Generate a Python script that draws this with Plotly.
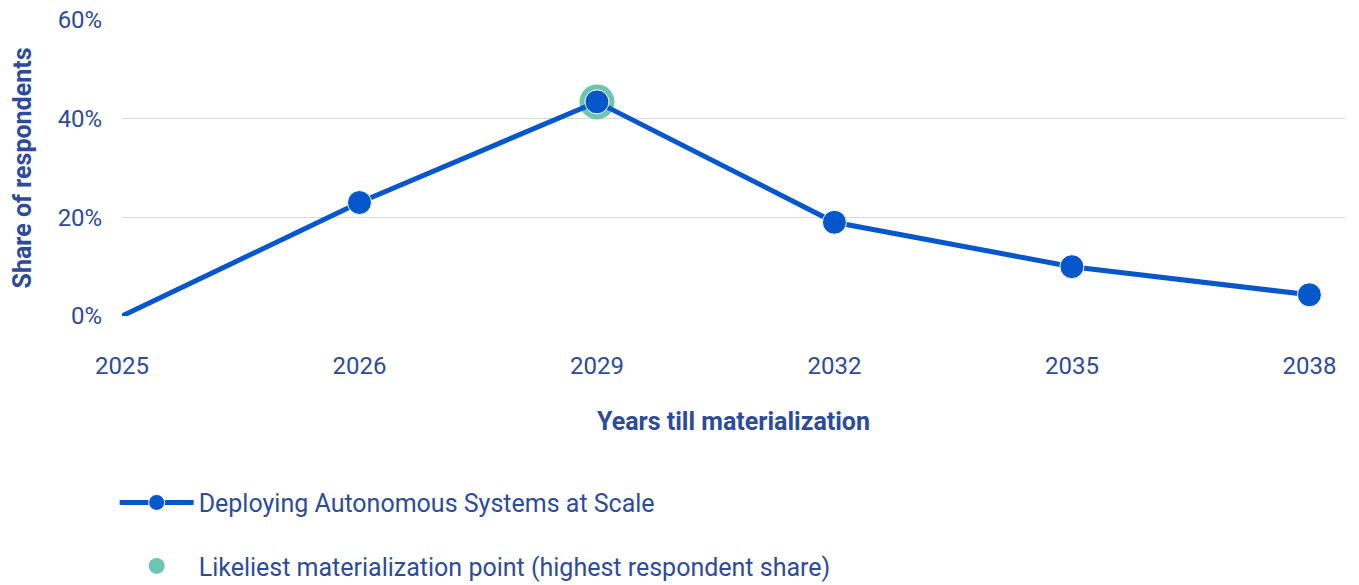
import plotly.graph_objects as go

# Survey results: share of respondents by expected year of materialization
years = ["2025", "2026", "2029", "2032", "2035", "2038"]
share = [0, 23, 43.4, 19, 10, 4.3]
y_ticks = [0, 20, 40, 60]
y_tick_labels = ["0%", "20%", "40%", "60%"]

series_name = "Deploying Autonomous Systems at Scale"
peak_name = "Likeliest materialization point (highest respondent share)"

LINE_BLUE = "#0757CC"
PEAK_TEAL = "#6DC6B1"
TEXT_BLUE = "#2D4B9B"
FONT = "Roboto, Noto Sans, sans-serif"

peak_idx = max(range(len(share)), key=lambda i: share[i])

# no dot on the zero starting point
marker_sizes = [0 if v == 0 else 24 for v in share]

fig = go.Figure()

# highlight ring behind the peak point
fig.add_trace(go.Scatter(
    x=[years[peak_idx]], y=[share[peak_idx]],
    mode="markers",
    marker=dict(size=35, color=PEAK_TEAL, opacity=1),
    name=peak_name,
    legendgroup="b", legendrank=2,
    hoverinfo="skip",
))

fig.add_trace(go.Scatter(
    x=years, y=share,
    mode="lines+markers",
    line=dict(color=LINE_BLUE, width=5),
    marker=dict(size=marker_sizes, color=LINE_BLUE, opacity=1),
    name=series_name,
    legendgroup="a", legendrank=1,
))

fig.update_layout(
    width=1359, height=585,
    margin=dict(l=122, r=14, t=20, b=269),
    paper_bgcolor="white", plot_bgcolor="white",
    font=dict(family=FONT, color=TEXT_BLUE, size=24),
    showlegend=True,
    legend=dict(
        x=-0.006, xanchor="left",
        yref="container", y=0.18, yanchor="top",
        traceorder="grouped",
        tracegroupgap=28,
        itemwidth=74,
        font=dict(size=25, color=TEXT_BLUE, family=FONT),
        bgcolor="rgba(0,0,0,0)",
    ),
)

fig.update_xaxes(
    type="category",
    categoryorder="array", categoryarray=years,
    range=[0, 5.15],
    automargin=False,
    showgrid=False, zeroline=False, showline=False,
    ticks="outside", ticklen=28, tickcolor="rgba(0,0,0,0)",
    tickfont=dict(size=24, color=TEXT_BLUE),
    title=dict(text="<b>Years till materialization</b>",
               font=dict(size=25, color=TEXT_BLUE), standoff=33),
)

fig.update_yaxes(
    range=[0, 60],
    tickvals=y_ticks, ticktext=y_tick_labels,
    automargin=False,
    showgrid=True, gridcolor="#D9D9D9", gridwidth=1,
    zeroline=False, showline=False,
    ticks="outside", ticklen=14, tickcolor="rgba(0,0,0,0)",
    tickfont=dict(size=24, color=TEXT_BLUE),
    title=dict(text="<b>Share of respondents</b>",
               font=dict(size=25, color=TEXT_BLUE), standoff=18),
)

fig.write_html("out.html")
